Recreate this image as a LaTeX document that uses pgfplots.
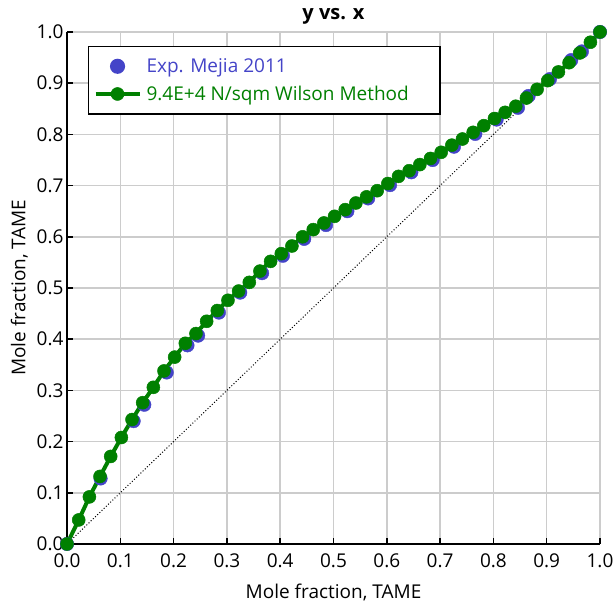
\documentclass[border=0pt]{standalone}
\usepackage{fontspec}
\setmainfont{Open Sans}
\usepackage{pgfplots}
\pgfplotsset{compat=1.18}
\definecolor{expblue}{RGB}{68,68,200}
\definecolor{wgreen}{RGB}{0,128,0}
\definecolor{gridgray}{RGB}{204,204,204}

\pgfplotstableread{
x y
0.000 0.000
0.063 0.128
0.125 0.240
0.145 0.272
0.187 0.335
0.226 0.388
0.246 0.407
0.285 0.452
0.325 0.491
0.366 0.529
0.405 0.563
0.445 0.596
0.486 0.623
0.526 0.650
0.565 0.675
0.606 0.701
0.646 0.726
0.686 0.750
0.726 0.776
0.766 0.801
0.806 0.829
0.846 0.852
0.866 0.875
0.906 0.908
0.946 0.945
0.966 0.962
1.000 1.000
}\expdata

\pgfplotstableread{
x y
0.000 0.000
0.022 0.047
0.042 0.092
0.062 0.132
0.082 0.171
0.102 0.208
0.122 0.243
0.142 0.276
0.162 0.306
0.182 0.338
0.202 0.365
0.222 0.392
0.242 0.411
0.262 0.435
0.282 0.456
0.302 0.476
0.322 0.494
0.342 0.511
0.362 0.533
0.382 0.552
0.402 0.567
0.422 0.582
0.442 0.600
0.462 0.614
0.482 0.627
0.502 0.640
0.522 0.653
0.542 0.666
0.562 0.678
0.582 0.690
0.602 0.704
0.622 0.718
0.642 0.729
0.662 0.741
0.682 0.753
0.702 0.765
0.722 0.779
0.742 0.791
0.762 0.804
0.782 0.817
0.802 0.831
0.822 0.843
0.842 0.855
0.862 0.871
0.882 0.888
0.902 0.905
0.922 0.922
0.942 0.940
0.962 0.959
0.982 0.980
1.000 1.000
}\wilson

\begin{document}
\begin{tikzpicture}
\begin{axis}[
    scale only axis,
    width=533pt, height=512pt,
    xmin=0, xmax=1, ymin=0, ymax=1,
    xtick={0,0.1,0.2,0.3,0.4,0.5,0.6,0.7,0.8,0.9,1.0},
    ytick={0,0.1,0.2,0.3,0.4,0.5,0.6,0.7,0.8,0.9,1.0},
    xticklabel style={yshift=-6pt, /pgf/number format/.cd, fixed, fixed zerofill, precision=1},
    yticklabel style={/pgf/number format/.cd, fixed, fixed zerofill, precision=1},
    /pgf/number format/assume math mode=true,
    tick label style={font=\fontsize{19}{22}\selectfont},
    label style={font=\fontsize{19}{22}\selectfont},
    axis x line*=bottom, axis y line*=left,
    axis line style={-, line width=1.5pt},
    tick align=inside,
    major tick length=6pt,
    tick style={black, line width=1.5pt},
    grid=major,
    grid style={gridgray, line width=1.5pt},
    xlabel={Mole fraction, TAME},
    ylabel={Mole fraction, TAME},
    xlabel style={yshift=-10pt},
    ylabel style={yshift=2pt},
    title={y vs. x},
    title style={font=\bfseries\fontsize{20}{22}\selectfont, at={(0.5,1)}, anchor=south, yshift=-2pt},
    legend style={at={(0.039,0.973)}, anchor=north west, draw=black, line width=1.5pt,
        font=\fontsize{19}{22}\selectfont, inner xsep=5pt, inner ysep=10pt, row sep=8pt},
    legend cell align=left,
    legend image code/.code={\draw[mark repeat=2, mark phase=2, #1] plot coordinates {(0pt,0pt) (22pt,0pt) (44pt,0pt)};},
]
\addplot[black, dotted, line width=1pt, forget plot] coordinates {(0,0) (0.855,0.855)};
\addplot[only marks, mark=*, mark size=6.8pt, expblue, mark options={draw=expblue, fill=expblue}] table {\expdata};
\addlegendentry{\hspace*{3pt}\textcolor{expblue}{Exp. Mejia 2011}}
\addplot[wgreen, line width=4pt, mark=*, mark size=6.5pt, mark options={fill=wgreen, draw=wgreen, line width=0.5pt}] table {\wilson};
\addlegendentry{\hspace*{3pt}\textcolor{wgreen}{9.4E+4 N/sqm Wilson Method}\hspace*{24pt}}
\end{axis}
\pgfresetboundingbox
\path[use as bounding box] (-67pt,-63pt) rectangle (547pt,544pt);
\end{tikzpicture}
\end{document}
